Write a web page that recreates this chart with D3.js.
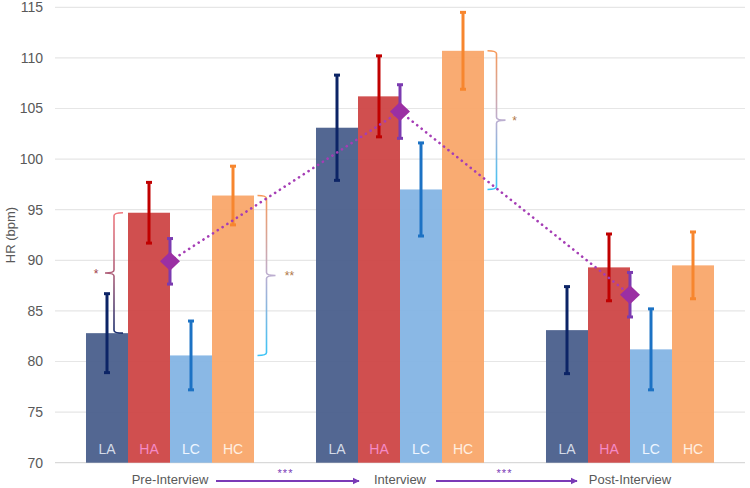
<!DOCTYPE html>
<html>
<head>
<meta charset="utf-8">
<script src="https://cdn.jsdelivr.net/npm/d3@7"></script>
<style>
  body { margin: 0; background: #fff; }
  svg { display: block; font-family: "Liberation Sans", Arial, sans-serif; }
</style>
</head>
<body>
<svg id="chart"></svg>
<script>
// values
const periods = ["Pre-Interview", "Interview", "Post-Interview"];
const groups = ["LA", "HA", "LC", "HC"];
const meanLA = [82.8, 103.1, 83.1];
const meanHA = [94.7, 106.2, 89.3];
const meanLC = [80.6, 97.0, 81.2];
const meanHC = [96.4, 110.7, 89.5];
const errLA = [3.9, 5.2, 4.3];
const errHA = [3.0, 4.0, 3.3];
const errLC = [3.4, 4.6, 4.0];
const errHC = [2.9, 3.8, 3.3];
const overallMean = [89.9, 104.7, 86.6];
const overallErr = [2.25, 2.65, 2.2];
const yTicks = [70, 75, 80, 85, 90, 95, 100, 105, 110, 115];
// significance braces: compare two bars within a period
const comparisons = [
    {period: "Pre-Interview", top: "HA", bottom: "LA", label: "*", side: "left"},
    {period: "Pre-Interview", top: "HC", bottom: "LC", label: "**", side: "right"},
    {period: "Interview", top: "HC", bottom: "LC", label: "*", side: "right"}
];
const periodArrows = [["Pre-Interview", "Interview", "***"], ["Interview", "Post-Interview", "***"]];

const W = 750, H = 488;
const means = {LA: meanLA, HA: meanHA, LC: meanLC, HC: meanHC};
const errs = {LA: errLA, HA: errHA, LC: errLC, HC: errHC};
const barColor = {LA: "#4a5f8c", HA: "#cd4646", LC: "#84b4e4", HC: "#f9a66a"};
const errColor = {LA: "#0c2466", HA: "#c00000", LC: "#1c72c4", HC: "#f7862e"};
const labelColor = {LA: "#d3dbe8", HA: "#f58ac6", LC: "#eef6ff", HC: "#fff0e2"};
const braceColors = {
    LA: "#1a2f6e", HA: "#f07a80", LC: "#3cc4f6", HC: "#f79a5a"
};

const svg = d3.select("#chart").attr("width", W).attr("height", H);
const defs = svg.append("defs");

const y = d3.scaleLinear().domain([70, 115]).range([462.7, 7.3]);
const x0 = d3.scaleBand().domain(periods).range([55, 745]).padding(0);
const x1 = d3.scaleBand().domain(groups).range([0, x0.bandwidth()])
    .paddingInner(0).paddingOuter(0.738);

// gridlines + y tick labels
svg.append("g").selectAll("line").data(yTicks).join("line")
    .attr("x1", 55).attr("x2", 745)
    .attr("y1", d => y(d)).attr("y2", d => y(d))
    .attr("stroke", d => d === 70 ? "#d9d9d9" : "#e6e6e6").attr("stroke-width", 1.2);
svg.append("g").selectAll("text").data(yTicks).join("text")
    .attr("x", 43).attr("y", d => y(d)).attr("dy", "0.35em")
    .attr("text-anchor", "end").attr("font-size", 14).attr("fill", "#595959")
    .text(d => d);
svg.append("text")
    .attr("transform", `translate(10,${y(92.5)}) rotate(-90)`)
    .attr("text-anchor", "middle").attr("dy", "0.35em").attr("font-size", 13).attr("fill", "#595959")
    .text("HR (bpm)");

// bars
const rows = [];
periods.forEach((p, i) => groups.forEach(g => rows.push({p, g, v: means[g][i], e: errs[g][i]})));
const bx = d => x0(d.p) + x1(d.g);

svg.append("g").selectAll("rect").data(rows).join("rect")
    .attr("x", bx).attr("width", x1.bandwidth())
    .attr("y", d => y(d.v)).attr("height", d => y(70) - y(d.v))
    .attr("fill", d => barColor[d.g]).attr("fill-opacity", 0.95);

svg.append("g").selectAll("text").data(rows).join("text")
    .attr("x", d => bx(d) + x1.bandwidth() / 2).attr("y", 449).attr("dy", "0.35em")
    .attr("text-anchor", "middle").attr("font-size", 14).attr("fill", d => labelColor[d.g])
    .text(d => d.g);

// error bars
function errorBar(sel, cx, mean, e, color) {
    const g = sel.append("g").attr("stroke", color).attr("stroke-width", 3);
    g.append("line").attr("x1", cx).attr("x2", cx).attr("y1", y(mean + e)).attr("y2", y(mean - e));
    [mean + e, mean - e].forEach(v => g.append("line")
        .attr("x1", cx - 3).attr("x2", cx + 3).attr("y1", y(v)).attr("y2", y(v)));
}
const errG = svg.append("g");
rows.forEach(d => errorBar(errG, bx(d) + x1.bandwidth() / 2, d.v, d.e, errColor[d.g]));

// significance braces
comparisons.forEach((c, i) => {
    const xs = x0(c.period);
    const yTop = y(means[c.top][periods.indexOf(c.period)]);
    const yBot = y(means[c.bottom][periods.indexOf(c.period)]);
    let bxp, dir;
    if (c.side === "left") { bxp = xs + x1(c.top) - 14; dir = -1; }
    else { bxp = xs + x1(c.top) + x1.bandwidth() + 12.5; dir = 1; }
    const ym = (yTop + yBot) / 2;
    const h = 9, t = 9, r = 3;
    const gid = "brace" + i;
    const grad = defs.append("linearGradient").attr("id", gid)
        .attr("gradientUnits", "userSpaceOnUse")
        .attr("x1", 0).attr("x2", 0).attr("y1", yTop).attr("y2", yBot);
    grad.append("stop").attr("offset", 0).attr("stop-color", braceColors[c.top]);
    grad.append("stop").attr("offset", 0.5).attr("stop-color", c.side === "left" ? "#b0607a" : "#bcaed0");
    grad.append("stop").attr("offset", 1).attr("stop-color", braceColors[c.bottom]);
    const p = d3.path();
    p.moveTo(bxp - dir * h, yTop);
    p.quadraticCurveTo(bxp, yTop, bxp, yTop + r);
    p.lineTo(bxp, ym - r);
    p.quadraticCurveTo(bxp, ym, bxp + dir * t, ym);
    p.moveTo(bxp + dir * t, ym);
    p.quadraticCurveTo(bxp, ym, bxp, ym + r);
    p.lineTo(bxp, yBot - r);
    p.quadraticCurveTo(bxp, yBot, bxp - dir * h, yBot);
    svg.append("path").attr("d", p.toString()).attr("fill", "none")
        .attr("stroke", `url(#${gid})`).attr("stroke-width", 1.6);
    svg.append("text")
        .attr("x", bxp + dir * (t + 9 + (c.label.length - 1) * 5))
        .attr("y", ym + 5).attr("text-anchor", "middle")
        .attr("font-size", 12).attr("fill", c.side === "left" ? "#a0404a" : "#b07848")
        .text(c.label);
});

// overall mean line + diamonds
const cx = p => x0(p) + x0.bandwidth() / 2;
const meanPts = periods.map((p, i) => ({p, v: overallMean[i], e: overallErr[i]}));
svg.append("path").datum(meanPts)
    .attr("d", d3.line().x(d => cx(d.p)).y(d => y(d.v)))
    .attr("fill", "none").attr("stroke", "#a53db5").attr("stroke-width", 2.6)
    .attr("stroke-dasharray", "0.1,5.6").attr("stroke-linecap", "round");
meanPts.forEach(d => errorBar(svg, cx(d.p), d.v, d.e, "#7b3bb0"));
svg.append("g").selectAll("path").data(meanPts).join("path")
    .attr("d", d3.symbol(d3.symbolSquare, 200))
    .attr("transform", d => `translate(${cx(d.p)},${y(d.v)}) scale(1,0.95) rotate(45)`)
    .attr("fill", "#9b2fa3");

// period labels and arrows
const labY = 480;
svg.append("g").selectAll("text").data(periods).join("text")
    .attr("x", p => cx(p)).attr("y", labY).attr("dy", "0.3em")
    .attr("text-anchor", "middle").attr("font-size", 13).attr("fill", "#595959")
    .text(p => p);
defs.append("marker").attr("id", "arrowhead").attr("viewBox", "0 0 10 10")
    .attr("refX", 9).attr("refY", 5).attr("markerWidth", 4).attr("markerHeight", 4)
    .attr("orient", "auto").attr("markerUnits", "strokeWidth")
    .append("path").attr("d", "M0,0 L10,5 L0,10 Z").attr("fill", "#7a3ab6");
periodArrows.forEach(([a, b, lab], i) => {
    const xa = cx(a) + (i === 0 ? 46 : 36);
    const xb = cx(b) - (i === 0 ? 41 : 53);
    svg.append("line").attr("x1", xa).attr("x2", xb).attr("y1", labY + 1).attr("y2", labY + 1)
        .attr("stroke", "#7a3ab6").attr("stroke-width", 1.8).attr("marker-end", "url(#arrowhead)");
    svg.append("text").attr("x", (xa + xb) / 2 - 2).attr("y", labY - 3)
        .attr("text-anchor", "middle").attr("font-size", 11).attr("fill", "#7a3ab6")
        .attr("letter-spacing", 1)
        .text(lab);
});
</script>
</body>
</html>
